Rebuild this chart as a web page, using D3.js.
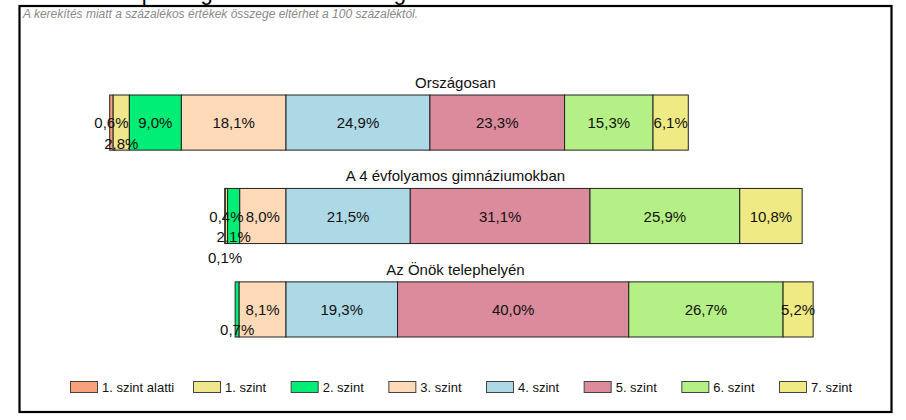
<!DOCTYPE html>
<html>
<head>
<meta charset="utf-8">
<script src="https://cdn.jsdelivr.net/npm/d3@7"></script>
<style>
  body { margin: 0; background: #fff; }
  svg { display: block; font-family: Arial, "Liberation Sans", sans-serif; }
</style>
</head>
<body>
<svg width="906" height="420"></svg>
<script>
// data
const levels = ['1. szint alatti', '1. szint', '2. szint', '3. szint', '4. szint', '5. szint', '6. szint', '7. szint'];
const groups = ['Országosan', 'A 4 évfolyamos gimnáziumokban', 'Az Önök telephelyén'];
const orszagosan = [0.6, 2.8, 9.0, 18.1, 24.9, 23.3, 15.3, 6.1];
const gimnaziumok = [0.1, 0.4, 2.1, 8.0, 21.5, 31.1, 25.9, 10.8];
const telephely = [0, 0, 0.7, 8.1, 19.3, 40.0, 26.7, 5.2];
const groupValues = [orszagosan, gimnaziumok, telephely];

const levelColors = ['#fba07c', '#f0e68c', '#00ee76', '#ffdab9', '#add8e6', '#db8b9c', '#b4f086', '#f0ea84'];

const svg = d3.select('svg');

// frame + heading (cut off at the top edge, as in the source) + note
svg.append('text')
    .attr('x', 22).attr('y', 0)
    .style('font-size', '22px')
    .text('A tanulók képességszintek szerinti megoszlása');

svg.append('rect')
    .attr('x', 19.5).attr('y', 6)
    .attr('width', 872).attr('height', 406)
    .attr('fill', 'none')
    .attr('stroke', '#000')
    .attr('stroke-width', 2.2);

svg.append('text')
    .attr('x', 23).attr('y', 18)
    .style('font-size', '12px')
    .style('font-style', 'italic')
    .attr('fill', '#8a8a8a')
    .text('A kerekítés miatt a  százalékos értékek összege eltérhet a 100 százaléktól.');

// bars are anchored at the 3./4. szint boundary (value 0)
const x = d3.scaleLinear().domain([-40, 95]).range([54.8, 835.1]);
const y = d3.scaleBand().domain(groups).range([95, 337]).paddingInner(0.41).paddingOuter(0);
const color = d3.scaleOrdinal().domain(levels).range(levelColors);
const fmt = v => d3.format('.1f')(v).replace('.', ',') + '%';

// build segments with start / end relative to the anchor
const rows = groups.map((g, gi) => {
    const vals = groupValues[gi];
    const leftSum = d3.sum(vals.slice(0, 4));
    let acc = -leftSum;
    const segs = vals.map((v, i) => {
        const s = { group: g, level: levels[i], value: v, x0: acc, x1: acc + v };
        acc += v;
        return s;
    });
    // small segments get their labels pushed down, counted from the right
    const pattern = [1, 0, 2];
    let k = 0;
    for (let i = segs.length - 1; i >= 0; i--) {
        const s = segs[i];
        s.shift = 0;
        if (s.value > 0 && s.value < 4) {
            s.shift = pattern[k % pattern.length];
            k++;
        }
    }
    return { group: g, segs: segs.filter(s => s.value > 0) };
});

const rowG = svg.selectAll('g.row')
    .data(rows)
    .enter()
    .append('g')
    .attr('class', 'row');

rowG.append('text')
    .attr('x', 455.5)
    .attr('y', d => y(d.group) - 7)
    .attr('text-anchor', 'middle')
    .style('font-size', '15px')
    .attr('fill', '#111')
    .text(d => d.group);

rowG.selectAll('rect')
    .data(d => d.segs)
    .enter()
    .append('rect')
    .attr('x', d => x(d.x0))
    .attr('y', d => y(d.group))
    .attr('width', d => x(d.x1) - x(d.x0))
    .attr('height', y.bandwidth())
    .attr('fill', d => color(d.level))
    .attr('stroke', '#222')
    .attr('stroke-width', 1);

rowG.selectAll('text.val')
    .data(d => d.segs)
    .enter()
    .append('text')
    .attr('class', 'val')
    .attr('x', d => (x(d.x0) + x(d.x1)) / 2)
    .attr('y', d => y(d.group) + y.bandwidth() / 2 + d.shift * 20.5)
    .attr('text-anchor', 'middle')
    .attr('dominant-baseline', 'central')
    .style('font-size', '15px')
    .attr('fill', '#111')
    .text(d => fmt(d.value));

// legend
const legendX = d3.scalePoint().domain(levels.slice(1)).range([193, 779]);
const legendPos = l => l === levels[0] ? 70 : legendX(l);

const leg = svg.selectAll('g.legend')
    .data(levels)
    .enter()
    .append('g')
    .attr('class', 'legend')
    .attr('transform', d => `translate(${legendPos(d)},381)`);

leg.append('rect')
    .attr('x', 0.5).attr('y', 0.5)
    .attr('width', 27).attr('height', 11)
    .attr('fill', d => color(d))
    .attr('stroke', '#444')
    .attr('stroke-width', 1);

leg.append('text')
    .attr('x', 32).attr('y', 10.5)
    .style('font-size', '13px')
    .attr('fill', '#111')
    .text(d => d);
</script>
</body>
</html>
